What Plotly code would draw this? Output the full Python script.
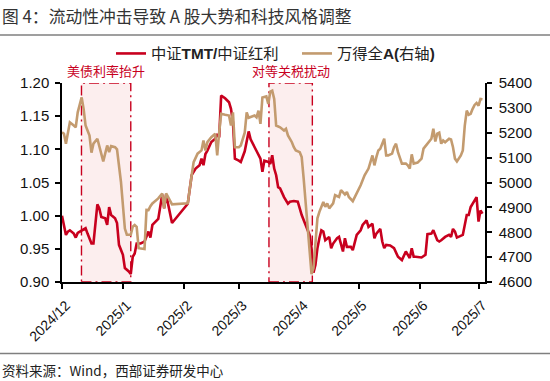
import plotly.graph_objects as go
import pandas as pd

# ---- data ----
tmt_dates = [
    "2024-12-02","2024-12-03","2024-12-04","2024-12-05","2024-12-06","2024-12-08","2024-12-09","2024-12-10",
    "2024-12-12","2024-12-14","2024-12-15","2024-12-17","2024-12-18","2024-12-19","2024-12-20","2024-12-21",
    "2024-12-22","2024-12-24","2024-12-25","2024-12-26","2024-12-27","2024-12-29","2024-12-30","2024-12-31",
    "2025-01-02","2025-01-03","2025-01-05","2025-01-06","2025-01-07","2025-01-08","2025-01-09","2025-01-11",
    "2025-01-13","2025-01-15","2025-01-16","2025-01-17","2025-01-20","2025-01-22","2025-01-23","2025-01-24",
    "2025-01-27","2025-02-04","2025-02-06","2025-02-08","2025-02-10","2025-02-11","2025-02-12","2025-02-13",
    "2025-02-14","2025-02-16","2025-02-18","2025-02-19","2025-02-20","2025-02-21","2025-02-23","2025-02-25",
    "2025-02-26","2025-02-27","2025-02-28","2025-03-02","2025-03-03","2025-03-05","2025-03-06","2025-03-07",
    "2025-03-08","2025-03-10","2025-03-11","2025-03-13","2025-03-14","2025-03-15","2025-03-17","2025-03-18",
    "2025-03-19","2025-03-20","2025-03-21","2025-03-22","2025-03-23","2025-03-25","2025-03-27","2025-03-28",
    "2025-03-30","2025-04-01","2025-04-02","2025-04-03","2025-04-05","2025-04-07","2025-04-08","2025-04-09",
    "2025-04-10","2025-04-11","2025-04-12","2025-04-13","2025-04-14","2025-04-15","2025-04-17","2025-04-18",
    "2025-04-19","2025-04-21","2025-04-22","2025-04-24","2025-04-25","2025-04-26","2025-04-28","2025-04-29",
    "2025-05-01","2025-05-03","2025-05-04","2025-05-06","2025-05-07","2025-05-09","2025-05-10","2025-05-11",
    "2025-05-13","2025-05-14","2025-05-15","2025-05-16","2025-05-18","2025-05-20","2025-05-22","2025-05-24",
    "2025-05-26","2025-05-28","2025-05-29","2025-05-30","2025-05-31","2025-06-03","2025-06-05","2025-06-06",
    "2025-06-08","2025-06-09","2025-06-11","2025-06-12","2025-06-13","2025-06-15","2025-06-17","2025-06-18",
    "2025-06-19","2025-06-20","2025-06-21","2025-06-23","2025-06-24","2025-06-26","2025-06-27","2025-06-28",
    "2025-06-29","2025-07-01","2025-07-02","2025-07-03","2025-07-04",
]
tmt_ratio = [
    1.000,0.985,0.971,0.976,0.978,0.973,0.967,0.974,
    0.978,0.981,0.973,0.958,0.958,0.991,1.017,1.011,
    0.998,0.996,0.986,1.013,1.001,0.996,0.989,0.956,
    0.941,0.921,0.916,0.912,0.938,0.943,0.958,0.958,
    0.961,0.976,0.967,0.986,0.995,1.032,1.011,1.032,
    0.989,1.018,1.061,1.071,1.076,1.086,1.076,1.093,
    1.098,1.111,1.116,1.123,1.118,1.181,1.177,1.171,
    1.161,1.141,1.086,1.083,1.081,1.097,1.113,1.127,
    1.115,1.103,1.096,1.086,1.066,1.083,1.081,1.078,
    1.091,1.071,1.061,1.043,1.041,1.028,1.018,1.021,
    1.022,1.021,1.011,1.001,0.986,0.971,0.951,0.914,
    0.926,0.951,0.966,0.978,0.976,0.963,0.968,0.951,
    0.958,0.966,0.968,0.946,0.966,0.953,0.953,0.948,
    0.971,0.978,0.986,0.993,0.983,0.988,0.966,0.973,
    0.980,0.961,0.951,0.956,0.955,0.951,0.938,0.933,
    0.946,0.936,0.951,0.938,0.938,0.937,0.941,0.972,
    0.973,0.978,0.963,0.961,0.963,0.968,0.971,0.968,
    0.980,0.976,0.967,0.970,0.971,1.001,1.001,1.013,
    1.018,1.028,0.991,1.008,1.003,
]

wind_dates = [
    "2024-12-02","2024-12-03","2024-12-04","2024-12-05","2024-12-06","2024-12-08","2024-12-09","2024-12-10",
    "2024-12-12","2024-12-13","2024-12-14","2024-12-15","2024-12-16","2024-12-17","2024-12-18","2024-12-20",
    "2024-12-22","2024-12-23","2024-12-25","2024-12-26","2024-12-27","2024-12-29","2024-12-30","2025-01-01",
    "2025-01-03","2025-01-04","2025-01-06","2025-01-07","2025-01-08","2025-01-09","2025-01-10","2025-01-12",
    "2025-01-13","2025-01-14","2025-01-15","2025-01-16","2025-01-17","2025-01-20","2025-01-22","2025-01-23",
    "2025-01-24","2025-01-27","2025-02-04","2025-02-06","2025-02-07","2025-02-09","2025-02-11","2025-02-12",
    "2025-02-13","2025-02-14","2025-02-16","2025-02-18","2025-02-19","2025-02-20","2025-02-21","2025-02-23",
    "2025-02-25","2025-02-26","2025-02-27","2025-02-28","2025-03-02","2025-03-03","2025-03-05","2025-03-06",
    "2025-03-07","2025-03-10","2025-03-11","2025-03-12","2025-03-13","2025-03-14","2025-03-16","2025-03-17",
    "2025-03-18","2025-03-19","2025-03-20","2025-03-21","2025-03-23","2025-03-25","2025-03-26","2025-03-27",
    "2025-03-28","2025-03-29","2025-03-30","2025-03-31","2025-04-02","2025-04-03","2025-04-04","2025-04-05",
    "2025-04-06","2025-04-07","2025-04-08","2025-04-09","2025-04-10","2025-04-11","2025-04-12","2025-04-13",
    "2025-04-14","2025-04-15","2025-04-16","2025-04-17","2025-04-19","2025-04-20","2025-04-22","2025-04-23",
    "2025-04-25","2025-04-26","2025-04-27","2025-04-29","2025-05-01","2025-05-03","2025-05-05","2025-05-07",
    "2025-05-09","2025-05-10","2025-05-11","2025-05-12","2025-05-13","2025-05-15","2025-05-16","2025-05-17",
    "2025-05-19","2025-05-20","2025-05-21","2025-05-22","2025-05-24","2025-05-26","2025-05-27","2025-05-28",
    "2025-05-29","2025-05-30","2025-06-01","2025-06-03","2025-06-04","2025-06-06","2025-06-07","2025-06-08",
    "2025-06-09","2025-06-10","2025-06-11","2025-06-12","2025-06-13","2025-06-14","2025-06-15","2025-06-17",
    "2025-06-18","2025-06-19","2025-06-20","2025-06-21","2025-06-23","2025-06-24","2025-06-25","2025-06-26",
    "2025-06-27","2025-06-28","2025-06-29","2025-06-30","2025-07-01","2025-07-02","2025-07-03","2025-07-04",
]
wind_all_a = [
    5202,5196,5156,5209,5242,5229,5222,5282,
    5342,5296,5229,5209,5189,5120,5156,5176,
    5122,5085,5149,5122,5146,5142,5133,5003,
    4815,4790,4790,4822,4829,4822,4736,4733,
    4733,4890,4889,4905,4916,4936,4956,4896,
    4956,4912,4916,5029,5082,5116,5129,5169,
    5129,5162,5182,5196,5109,5202,5276,5272,
    5269,5229,5282,5142,5142,5149,5200,5282,
    5260,5269,5262,5289,5236,5342,5346,5316,
    5365,5369,5336,5229,5222,5209,5216,5189,
    5176,5162,5142,5129,5122,5102,5016,4922,
    4842,4736,4632,4656,4776,4856,4882,4902,
    4922,4902,4916,4896,4916,4949,4942,4969,
    4952,4962,4942,4925,4956,4989,5029,5056,
    5109,5069,5102,5129,5136,5176,5109,5109,
    5116,5142,5156,5122,5076,5076,5069,5056,
    5113,5076,5080,5096,5136,5156,5162,5176,
    5216,5165,5196,5200,5156,5169,5162,5176,
    5173,5142,5096,5085,5109,5129,5229,5289,
    5272,5276,5296,5312,5320,5309,5336,5335,
]

# shaded event windows
event_starts = ["2024-12-11 22:00", "2025-03-17 08:00"]
event_ends = ["2025-01-06 00:00", "2025-04-08 10:00"]
event_labels = ["美债利率抬升", "对等关税扰动"]

tick_dates = ["2024-12-02","2025-01-02","2025-02-02","2025-03-02","2025-04-02","2025-05-02","2025-06-02","2025-07-02"]
tick_labels = ["2024/12","2025/1","2025/2","2025/3","2025/4","2025/5","2025/6","2025/7"]

RED = "#C8001E"
TAN = "#C39B6F"
SANS = "Liberation Sans, Arial, sans-serif"
CJK = "Noto Sans CJK SC, Liberation Sans, sans-serif"
MIX = "Liberation Sans, Noto Sans CJK SC, sans-serif"

L, R, T, B = 62, 65, 83, 99
W, H = 550, 381
pw, ph = W - L - R, H - T - B
def px_to_paper_x(px):
    return (px - L) / pw
def px_to_paper_y(py):
    return (H - B - py) / ph

fig = go.Figure()
fig.add_trace(go.Scatter(x=tmt_dates, y=tmt_ratio, name="中证<b>TMT/</b>中证红利",
                         mode="lines", line=dict(color=RED, width=2.6), yaxis="y"))
fig.add_trace(go.Scatter(x=wind_dates, y=wind_all_a, name="万得全<b>A(</b>右轴<b>)</b>",
                         mode="lines", line=dict(color=TAN, width=2.6), yaxis="y2"))

for s, e, lab in zip(event_starts, event_ends, event_labels):
    fig.add_shape(type="rect", xref="x", yref="y", x0=s, x1=e, y0=0.90, y1=1.20,
                  fillcolor="rgba(246,205,205,0.35)",
                  line=dict(color=RED, width=1.4, dash="10px,4px,2px,4px"), layer="below")
    mid = pd.Timestamp(s) + (pd.Timestamp(e) - pd.Timestamp(s)) / 2
    fig.add_annotation(x=mid.strftime("%Y-%m-%d %H:%M"), xref="x", y=1.2, yref="y", text=lab,
                       showarrow=False, xanchor="center", yanchor="middle", yshift=13,
                       font=dict(family=CJK, size=13, color=RED))

fig.add_annotation(x=px_to_paper_x(0), xref="paper", y=px_to_paper_y(15.5), yref="paper",
                   text="图 4：流动性冲击导致 A 股大势和科技风格调整",
                   showarrow=False, xanchor="left", yanchor="middle",
                   font=dict(family=CJK, size=16.8, color="#333333"))
fig.add_annotation(x=px_to_paper_x(0), xref="paper", y=px_to_paper_y(370), yref="paper",
                   text="资料来源：Wind，西部证券研发中心",
                   showarrow=False, xanchor="left", yanchor="middle",
                   font=dict(family=CJK, size=13.5, color="#222222"))

for py in (35, 353.5):
    fig.add_shape(type="line", xref="paper", yref="paper", x0=px_to_paper_x(0), x1=px_to_paper_x(550),
                  y0=px_to_paper_y(py), y1=px_to_paper_y(py), line=dict(color="#7f7f7f", width=1.3))

axis_font = dict(family=SANS, size=15, color="#111111")
fig.update_layout(
    width=W, height=H, margin=dict(l=L, r=R, t=T, b=B, pad=0, autoexpand=False),
    paper_bgcolor="white", plot_bgcolor="white",
    showlegend=True,
    legend=dict(orientation="h", x=px_to_paper_x(111), y=px_to_paper_y(53.5), xanchor="left", yanchor="middle",
                font=dict(family=MIX, size=15.3, color="#222222"), entrywidth=141, entrywidthmode="pixels",
                bgcolor="rgba(0,0,0,0)", itemwidth=30, tracegroupgap=0),
    xaxis=dict(type="date", range=["2024-12-02", "2025-07-05 07:00"], tickvals=tick_dates, ticktext=tick_labels,
               tickangle=-45, showgrid=False, zeroline=False, showline=True, linecolor="black", linewidth=1.5,
               ticks="outside", ticklen=5, tickwidth=1.5, tickcolor="black", ticklabelshift=4,
               ticklabelstandoff=3, tickfont=dict(family=SANS, size=14, color="#111111")),
    yaxis=dict(range=[0.90, 1.20], dtick=0.05, tickformat=".2f", showgrid=False, zeroline=False,
               showline=True, linecolor="black", linewidth=1.5, ticks="outside", ticklen=5, tickwidth=1.5,
               tickcolor="black", tickfont=axis_font, ticklabelstandoff=3),
    yaxis2=dict(range=[4600, 5400], dtick=100, overlaying="y", side="right", showgrid=False, zeroline=False,
                showline=True, linecolor="black", linewidth=1.5, ticks="outside", ticklen=5, tickwidth=1.5,
                tickcolor="black", tickfont=axis_font, ticklabelstandoff=4),
)

fig.write_html("out.html", config={"displayModeBar": False},
               post_script="document.body.style.margin='0';document.body.style.overflow='hidden';")
